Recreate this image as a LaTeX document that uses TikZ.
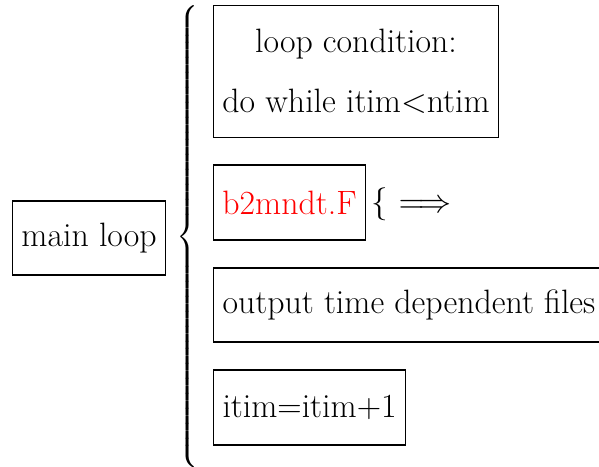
\documentclass[tikz,border=0pt]{standalone}
\usepackage{amsmath}
\usepackage{exscale}
\usepackage{graphicx}
\usepackage{fontspec}
\begin{document}
\begin{tikzpicture}[x=1pt,y=-1pt,
  every node/.style={font=\fontsize{33.8}{40}\selectfont},
  box/.style={draw, line width=1.1pt, inner xsep=0pt, inner ysep=0pt, minimum height=74pt},
]
\useasboundingbox (0,0) rectangle (599,466);
\node[box, anchor=west, minimum width=153pt] (main) at (12,238) {main loop};
\node[inner sep=0pt] (brace) at (188,237) {$\left\{\vcenter{\hbox{\rule{0pt}{456pt}}}\right.$};
\node[box, anchor=north west, minimum width=285pt, minimum height=132pt, align=center, font=\fontsize{33.8}{60}\selectfont] (cond) at (213,5) {loop condition:\\do while itim<ntim};
\node[box, anchor=west, minimum width=152pt, minimum height=75pt, text=red] (b2) at (213,202.5) {b2mndt.F};
\node[anchor=west, inner sep=0pt] (arr) at (371,204) {\scalebox{3.3}{\fontsize{10}{12}\selectfont$\{$ $\Longrightarrow$}};
\node[box, anchor=west, inner xsep=9pt] (out) at (213,305) {output time dependent files};
\node[box, anchor=west, minimum width=192pt, minimum height=75pt] (itim) at (213,407.5) {itim=itim+1};
\end{tikzpicture}
\end{document}
